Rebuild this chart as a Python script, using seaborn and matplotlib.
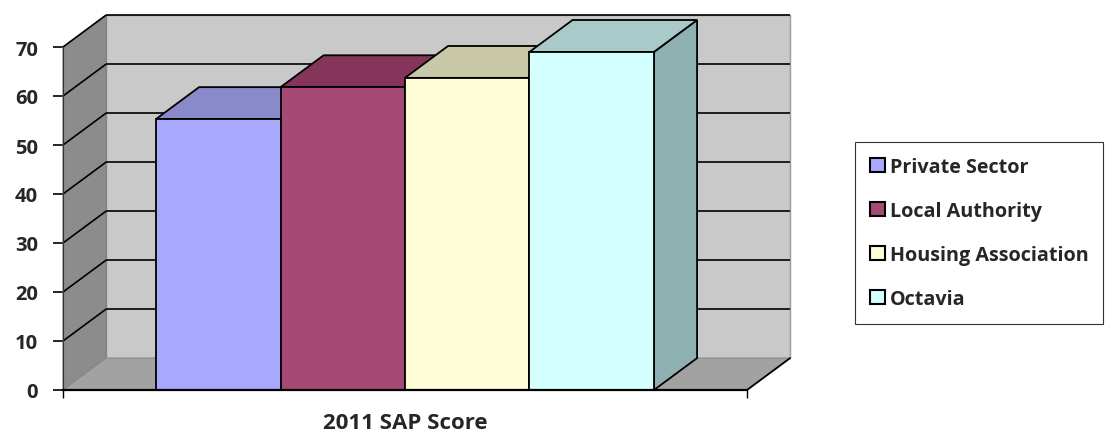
import matplotlib
matplotlib.use("Agg")
import matplotlib.pyplot as plt
from matplotlib.patches import Polygon, Patch
import seaborn as sns
import pandas as pd

# Data
categories = ["2011 SAP Score"]
sectors = ["Private Sector", "Local Authority", "Housing Association", "Octavia"]
scores = [55.3, 61.8, 63.7, 69.0]
y_ticks = [0, 10, 20, 30, 40, 50, 60, 70]

# Colours: front face, top face, right side face
front_colors = ["#A8A8FF", "#A64A75", "#FFFCD8", "#D4FFFF"]
top_colors = ["#888ACA", "#86355A", "#C9C9AA", "#AACACA"]
side_colors = ["#8587C4", "#7E3255", "#C2C2A2", "#8FB0B0"]

sns.set_style("white")
plt.rcParams["font.family"] = ["Open Sans", "DejaVu Sans"]
plt.rcParams["font.weight"] = "bold"

W, H = 1106, 435
fig = plt.figure(figsize=(W / 100, H / 100), dpi=100, facecolor="white")
ax = fig.add_axes([63 / W, (H - 391) / H, 684 / W, 343 / H])
ax.set_facecolor("none")

df = pd.DataFrame({
    "period": categories * len(sectors),
    "sector": sectors,
    "score": scores,
})

sns.barplot(data=df, x="period", y="score", hue="sector", hue_order=sectors,
            palette=front_colors, saturation=1, width=0.728, dodge=True,
            edgecolor="black", linewidth=1.3, legend=False, ax=ax)

ymax = y_ticks[-1]
ax.set_xlim(-0.5, 0.5)
ax.set_ylim(0, ymax)
x0, x1 = ax.get_xlim()

# depth of the 3-D box in data units
ddx = 0.063 * (x1 - x0)
ddy = 0.093 * ymax

def poly(pts, fc, ec="none", lw=0.0, z=1):
    ax.add_patch(Polygon(pts, closed=True, facecolor=fc, edgecolor=ec,
                         linewidth=lw, zorder=z, clip_on=False))

# walls and floor
poly([(x0 + ddx, ddy), (x1 + ddx, ddy), (x1 + ddx, ymax + ddy), (x0 + ddx, ymax + ddy)],
     "#C9C9C9", ec="#9A9A9A", lw=1.0, z=0.5)
poly([(x0, 0), (x0 + ddx, ddy), (x0 + ddx, ymax + ddy), (x0, ymax)],
     "#8C8C8C", ec="#7A7A7A", lw=0.8, z=0.6)
poly([(x0, 0), (x1, 0), (x1 + ddx, ddy), (x0 + ddx, ddy)],
     "#A2A2A2", ec="#8A8A8A", lw=0.8, z=0.6)

# gridlines along the back wall and the left wall
for t in y_ticks[1:]:
    ax.plot([x0 + ddx, x1 + ddx], [t + ddy, t + ddy], color="black", lw=1.2,
            zorder=0.8, clip_on=False, solid_capstyle="butt")
    ax.plot([x0, x0 + ddx], [t, t + ddy], color="black", lw=1.2,
            zorder=0.8, clip_on=False, solid_capstyle="butt")
# front-right edge of the floor
ax.plot([x1, x1 + ddx], [0, ddy], color="black", lw=1.3, zorder=0.9, clip_on=False)

# 3-D faces of the bars
bars = [p for p in ax.patches if isinstance(p, matplotlib.patches.Rectangle)
        and p.get_height() > 0]
bars.sort(key=lambda p: p.get_x())
for i, (p, tc, sc) in enumerate(zip(bars, top_colors, side_colors)):
    bx, bw, bh = p.get_x(), p.get_width(), p.get_height()
    base = 10 + 3 * i
    poly([(bx + bw, 0), (bx + bw + ddx, ddy), (bx + bw + ddx, bh + ddy), (bx + bw, bh)],
         sc, ec="black", lw=1.3, z=base)
    poly([(bx, bh), (bx + bw, bh), (bx + bw + ddx, bh + ddy), (bx + ddx, bh + ddy)],
         tc, ec="black", lw=1.3, z=base + 1)
    p.set_zorder(base + 2)
    p.set_clip_on(False)

# axes styling
for s in ["top", "right"]:
    ax.spines[s].set_visible(False)
ax.spines["left"].set_color("#333333")
ax.spines["left"].set_linewidth(0.8)
ax.spines["bottom"].set_color("black")
ax.spines["bottom"].set_linewidth(1.6)
ax.spines["bottom"].set_zorder(40)

ax.set_yticks(y_ticks)
ax.set_yticklabels([str(t) for t in y_ticks], fontsize=14.5, fontweight="bold")
ax.tick_params(axis="y", direction="out", length=7, width=1.2, color="black", pad=11,
               left=True)
ax.set_xticks([0])
ax.set_xticklabels(categories, fontsize=16, fontweight="bold")
ax.tick_params(axis="x", which="major", length=0, pad=16)
ax.set_xticks([x0, x1], minor=True)
ax.tick_params(axis="x", which="minor", direction="out", length=6, width=1.0,
               color="black", bottom=True)
ax.set_xlabel("")
ax.set_ylabel("")

# legend
handles = [Patch(facecolor=c, edgecolor="black", linewidth=1.5) for c in front_colors]
leg = fig.legend(handles, sectors, loc="upper left",
                 bbox_to_anchor=(855 / W, 1 - 143 / H), borderaxespad=0,
                 frameon=True, fancybox=False, framealpha=1, edgecolor="#333333",
                 prop={"size": 14.2, "weight": "bold"}, handlelength=0.75,
                 handleheight=0.7, handletextpad=0.25, labelspacing=1.22,
                 borderpad=0.75)
leg.get_frame().set_linewidth(0.8)

fig.savefig("out.png", dpi=100, facecolor="white")
